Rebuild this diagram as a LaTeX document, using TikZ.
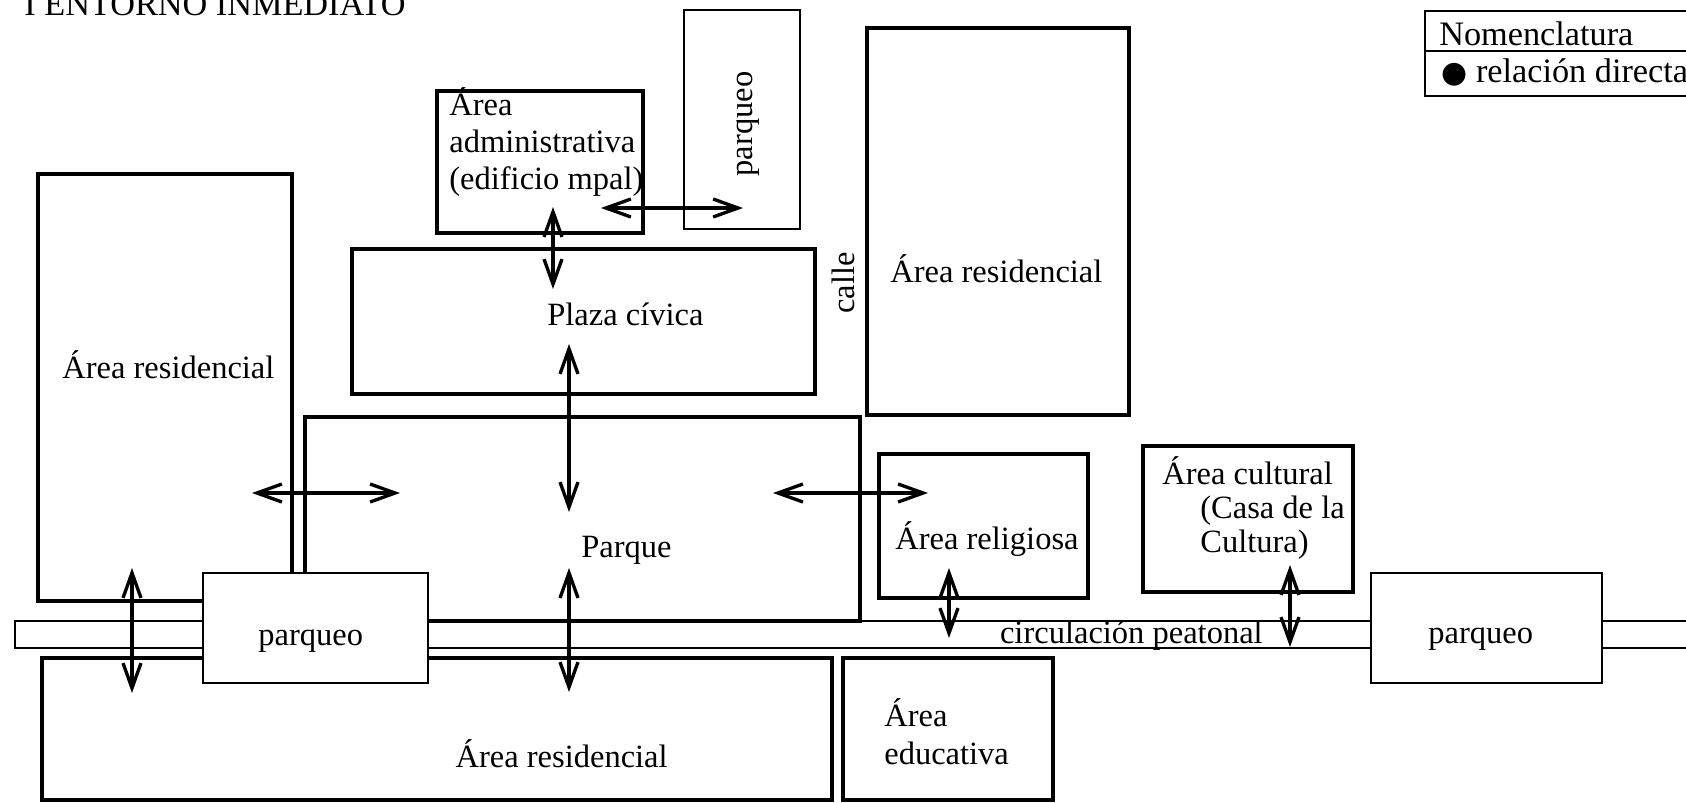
\documentclass[tikz,border=0pt]{standalone}
\usepackage{fontspec}
\setmainfont{Liberation Serif}
\newfontfamily\simbolo{DejaVu Sans}
\usetikzlibrary{arrows.meta}

\begin{document}
\begin{tikzpicture}[x=0.02cm,y=-0.02cm,
  every node/.style={font=\fontsize{18.5}{21}\selectfont,inner sep=0pt},
  zona/.style={draw,line width=1.8pt},
  parq/.style={draw,fill=white,line width=0.75pt},
  flecha/.style={line width=1.9pt,{Straight Barb[length=0.5cm,width=0.36cm]}-{Straight Barb[length=0.5cm,width=0.36cm]}}]
\useasboundingbox (0,0) rectangle (1686,802);
% circulacion peatonal
\draw[line width=0.75pt] (1686,621) -- (15,621) -- (15,648) -- (1686,648);
% zonas
\draw[zona] (437,91) rectangle (643,233);
\draw[zona] (352,249) rectangle (815,394);
\draw[zona] (867,28) rectangle (1129,415);
\draw[zona] (38,174) rectangle (292,601);
\draw[zona] (305,417) rectangle (860,621);
\draw[zona] (879,454) rectangle (1088,598);
\draw[zona] (1143,446) rectangle (1353,592);
\draw[zona] (42,658) rectangle (832,800);
\draw[zona] (843,658) rectangle (1053,800);
% parqueos
\draw[parq] (684,10) rectangle (800,229);
\draw[parq] (203,573) rectangle (428,683);
\draw[parq] (1371,573) rectangle (1602,683);
% nomenclatura
\draw[line width=0.75pt] (1686,11) -- (1425,11) -- (1425,96) -- (1686,96);
\draw[line width=0.75pt] (1425,51) -- (1686,51);

\node[anchor=base west,font=\fontsize{19.5}{23}\selectfont] (titulo) at (24,15) {I ENTORNO INMEDIATO};
\node[anchor=base west,font=\fontsize{19.5}{23}\selectfont] (nomen) at (1439,45) {Nomenclatura};
\node[anchor=base west,font=\fontsize{19.5}{23}\selectfont] (relac) at (1441,82) {{\simbolo\fontsize{17}{20}\selectfont ●} relación directa};

\node[anchor=north west,align=left] (admin) at (449,87) {Área\\administrativa\\(edificio mpal)};
\node[anchor=center,rotate=90] (parqN) at (748,124) {parqueo};
\node[anchor=base west] (plaza) at (547,325) {Plaza cívica};
\node[anchor=center,rotate=90] (calle) at (843,283) {calle};
\node[anchor=base west] (resNE) at (890,282) {Área residencial};
\node[anchor=base west] (resO) at (62,378) {Área residencial};
\node[anchor=base west] (parque) at (581,557) {Parque};
\node[anchor=base west] (relig) at (895,549) {Área religiosa};
\node[anchor=north west,align=left,font=\fontsize{18.5}{19.5}\selectfont] (cultu) at (1162,456)
  {Área cultural\\\hspace*{0.76cm}(Casa de la\\\hspace*{0.76cm}Cultura)};
\node[anchor=base west] (parqO) at (258,645) {parqueo};
\node[anchor=base east] (circ) at (1263,643) {circulación peatonal};
\node[anchor=base west] (parqE) at (1428,643) {parqueo};
\node[anchor=base east] (resS) at (668,767) {Área residencial};
\node[anchor=north west,align=left,font=\fontsize{18.5}{21.5}\selectfont] (educa) at (884,698) {Área\\educativa};

% relaciones
\coordinate (adm1) at (601,208);  \coordinate (adm2) at (743,208);
\coordinate (pla1) at (553,207);  \coordinate (pla2) at (553,289);
\coordinate (par1) at (569,344);  \coordinate (par2) at (569,512);
\coordinate (res1) at (252,493);  \coordinate (res2) at (400,493);
\coordinate (rel1) at (773,493);  \coordinate (rel2) at (928,493);
\coordinate (sur1) at (132,568);  \coordinate (sur2) at (132,693);
\coordinate (sur3) at (569,568);  \coordinate (sur4) at (569,692);
\coordinate (cir1) at (949,568);  \coordinate (cir2) at (949,638);
\coordinate (cul1) at (1290,565); \coordinate (cul2) at (1290,647);
\draw[flecha] (adm1) -- (adm2);
\draw[flecha] (pla1) -- (pla2);
\draw[flecha] (par1) -- (par2);
\draw[flecha] (res1) -- (res2);
\draw[flecha] (rel1) -- (rel2);
\draw[flecha] (sur1) -- (sur2);
\draw[flecha] (sur3) -- (sur4);
\draw[flecha] (cir1) -- (cir2);
\draw[flecha] (cul1) -- (cul2);
\end{tikzpicture}
\end{document}
